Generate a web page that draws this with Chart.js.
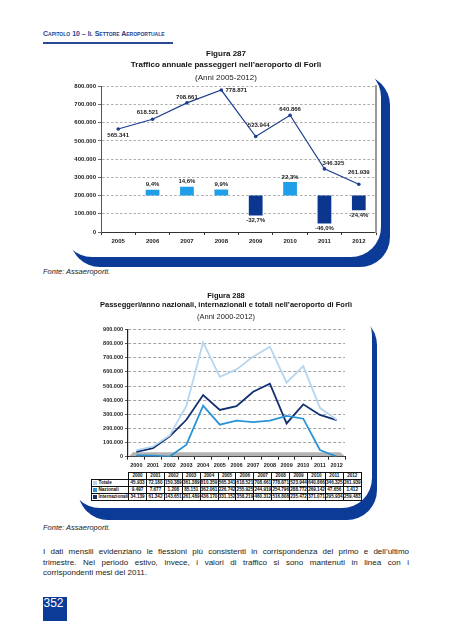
<!DOCTYPE html>
<html><head><meta charset="utf-8">
<script src="https://cdn.jsdelivr.net/npm/chart.js@4.4.1/dist/chart.umd.min.js"></script>
<style>
html,body{margin:0;padding:0;background:#fff;}
body{width:452px;height:640px;position:relative;overflow:hidden;font-family:"Liberation Sans",Arial,sans-serif;color:#1a1a1a;}
.abs{position:absolute;}
#hdr{left:43px;top:30px;font-size:7px;font-weight:bold;color:#1f3f8f;font-variant:small-caps;white-space:nowrap;}
#hdrline{left:43px;top:41.5px;width:130px;height:2px;background:#2a4a98;}
.fb{background:#0b3b96;border-radius:30px;z-index:0;}
.fw{background:#fff;border-radius:30px;z-index:1;}
canvas{position:absolute;z-index:2;}
.fonte{left:43px;font-size:7.5px;font-style:italic;color:#1a1a1a;white-space:nowrap;}
.bl{left:43px;width:366px;font-size:8px;white-space:nowrap;text-align:justify;text-align-last:justify;color:#1a1a1a;height:10.4px;line-height:10.4px;}
#pg{left:43px;top:597px;width:24px;height:24px;background:#0b3b96;color:#fff;font-size:12px;line-height:13px;padding-left:0.5px;box-sizing:border-box;}
#tbl{position:absolute;left:91px;top:472px;border-collapse:collapse;table-layout:fixed;z-index:3;font-size:4.6px;font-weight:bold;color:#111;}
#tbl td{border:0.8px solid #111;padding:0;height:6px;line-height:5.5px;text-align:center;white-space:nowrap;overflow:hidden;}
#tbl td.lab{text-align:left;padding-left:1px;}
#tbl td.blank{border:none;}
.sw{display:inline-block;width:4px;height:4px;margin-right:1.5px;vertical-align:-0.5px;}
</style></head>
<body>
<div id="hdr" class="abs">Capitolo 10 – Il Settore Aeroportuale</div>
<div id="hdrline" class="abs"></div>

<div class="abs fb" style="left:70px;top:75px;width:320px;height:192px;"></div>
<div class="abs fw" style="left:62px;top:67px;width:319px;height:190px;"></div>
<canvas id="c1" width="452" height="210" style="left:0;top:45px;"></canvas>
<div class="abs fonte" style="top:267px;">Fonte: Assaeroporti.</div>

<div class="abs fb" style="left:78px;top:315px;width:299px;height:205px;"></div>
<div class="abs fw" style="left:70px;top:305px;width:302px;height:203px;"></div>
<canvas id="c2" width="452" height="182" style="left:0;top:288px;"></canvas>
<table id="tbl"></table>
<div class="abs fonte" style="top:523px;">Fonte: Assaeroporti.</div>

<div class="abs bl" style="top:547px;">I dati mensili evidenziano le flessioni più consistenti in corrispondenza del primo e dell’ultimo</div>
<div class="abs bl" style="top:557.5px;">trimestre. Nel periodo estivo, invece, i valori di traffico si sono mantenuti in linea con i</div>
<div class="abs bl" style="top:568px;text-align-last:left;">corrispondenti mesi del 2011.</div>
<div id="pg" class="abs">352</div>

<script>
// ---------- data: Figura 287 ----------
const years1 = ['2005','2006','2007','2008','2009','2010','2011','2012'];
const passengers1 = [565341, 618521, 708661, 778871, 523944, 640866, 346325, 261939];
const change1 = [null, 9.4, 14.6, 9.9, -32.7, 22.3, -46.0, -24.4];
const yTicks1 = [0, 100000, 200000, 300000, 400000, 500000, 600000, 700000, 800000];

// ---------- data: Figura 288 ----------
const years2 = ['2000','2001','2002','2003','2004','2005','2006','2007','2008','2009','2010','2011','2012'];
const totale = [45933, 72180, 150389, 361389, 810359, 565341, 618521, 708661, 778871, 523944, 640866, 346325, 261939];
const nazionali = [9497, 7677, 1208, 85151, 362061, 226742, 255925, 244919, 254796, 288772, 269142, 47656, 1412];
const internazionali = [34139, 61342, 143651, 261489, 436170, 331152, 358219, 460312, 516808, 235472, 371071, 295934, 259483];
const yTicks2 = [0, 100000, 200000, 300000, 400000, 500000, 600000, 700000, 800000, 900000];
const seriesNames2 = ['Totale', 'Nazionali', 'Internazionali'];

const FONT = '"Liberation Sans", Arial, sans-serif';
const fmt = v => String(Math.round(v)).replace(/\B(?=(\d{3})+(?!\d))/g, '.');
const fmtPct = v => v.toFixed(1).replace('.', ',') + '%';

const C_LINE1 = '#1d3d8e', C_POS = '#1e9fe8', C_NEG = '#0a3690';
const C_TOT = '#b6d6f0', C_NAZ = '#2a93d6', C_INT = '#10306f';

// label offsets for the line values (style, not data)
const ptOffsets = [[0,6],[-5,-6.5],[0,-5.5],[15,0],[3,-11.5],[0,-5.5],[9,-5.5],[0,-11.5]];

const labels1 = {
  id: 'labels1',
  afterDatasetsDraw(chart) {
    const ctx = chart.ctx;
    ctx.save();
    ctx.font = 'bold 6px ' + FONT;
    ctx.fillStyle = '#222';
    ctx.textAlign = 'center';
    ctx.textBaseline = 'middle';
    chart.getDatasetMeta(1).data.forEach((el, i) => {
      const v = change1[i];
      if (v === null) return;
      ctx.fillText(fmtPct(v), el.x, v >= 0 ? el.y - 5 : el.y + 5);
    });
    chart.getDatasetMeta(0).data.forEach((el, i) => {
      const o = ptOffsets[i];
      ctx.fillText(fmt(passengers1[i]), el.x + o[0], el.y + o[1]);
    });
    ctx.restore();
  }
};

new Chart(document.getElementById('c1'), {
  data: {
    labels: years1,
    datasets: [
      { type: 'line', label: 'Passeggeri', data: passengers1, yAxisID: 'y', order: 0,
        borderColor: C_LINE1, backgroundColor: C_LINE1, borderWidth: 1.2,
        pointRadius: 1.8, pointBackgroundColor: C_LINE1, pointBorderWidth: 0, tension: 0 },
      { type: 'bar', label: 'Variazione %', data: change1, yAxisID: 'y2', order: 1,
        backgroundColor: change1.map(v => (v !== null && v < 0) ? C_NEG : C_POS),
        barPercentage: 0.8, categoryPercentage: 0.5 }
    ]
  },
  options: {
    responsive: false, animation: false,
    layout: { padding: { left: 30, right: 30, top: 0, bottom: 0 } },
    plugins: {
      legend: { display: false }, tooltip: { enabled: false },
      title: { display: true, text: ['Figura 287', 'Traffico annuale passeggeri nell\u2019aeroporto di Forlì'],
        color: '#111', font: { family: FONT, size: 8, weight: 'bold', lineHeight: 1.3 }, padding: { top: 4, bottom: 0 } },
      subtitle: { display: true, text: '(Anni 2005-2012)', color: '#222',
        font: { family: FONT, size: 8, weight: 'normal', lineHeight: 1.3 }, padding: { top: 3, bottom: 3 } }
    },
    scales: {
      x: {
        offset: true,
        grid: { offset: true, drawOnChartArea: false, drawTicks: true, tickLength: 3, tickColor: '#333' },
        border: { color: '#333', width: 1 },
        ticks: { color: '#222', font: { family: FONT, size: 6, weight: 'bold' }, padding: 3, maxRotation: 0 },
        afterFit(s) { s.height = 23; }
      },
      y: {
        position: 'left', min: 0, max: 800000,
        afterBuildTicks(s) { s.ticks = yTicks1.map(v => ({ value: v })); },
        ticks: { callback: v => fmt(v), color: '#222', font: { family: FONT, size: 6, weight: 'bold' }, padding: 2 },
        grid: { color: '#9a9a9a', lineWidth: 0.8, tickLength: 3, tickColor: '#444', tickBorderDash: [], tickWidth: 0.8 },
        border: { color: '#555', width: 1, dash: [2.5, 2] },
        afterFit(s) { s.width = 71; }
      },
      y2: {
        position: 'right', min: -60, max: 180,
        ticks: { display: false },
        grid: { display: false },
        border: { display: true, color: '#9a9a9a', width: 2 },
        afterFit(s) { s.width = 46; }
      }
    }
  },
  plugins: [labels1]
});

// ---------- chart 2 ----------
const floor2 = {
  id: 'floor2',
  beforeDatasetsDraw(chart) {
    const a = chart.chartArea, ctx = chart.ctx;
    ctx.save();
    ctx.fillStyle = '#b4b4b4';
    ctx.beginPath();
    ctx.moveTo(a.left + 1, a.bottom - 0.5);
    ctx.lineTo(a.right, a.bottom - 0.5);
    ctx.lineTo(a.right - 5, a.bottom - 4.5);
    ctx.lineTo(a.left + 5, a.bottom - 4.5);
    ctx.closePath();
    ctx.fill();
    ctx.restore();
  }
};

new Chart(document.getElementById('c2'), {
  type: 'line',
  data: {
    labels: years2,
    datasets: [
      { label: seriesNames2[0], data: totale, borderColor: C_TOT, backgroundColor: C_TOT, borderWidth: 1.8, pointRadius: 0, tension: 0 },
      { label: seriesNames2[1], data: nazionali, borderColor: C_NAZ, backgroundColor: C_NAZ, borderWidth: 1.8, pointRadius: 0, tension: 0 },
      { label: seriesNames2[2], data: internazionali, borderColor: C_INT, backgroundColor: C_INT, borderWidth: 1.8, pointRadius: 0, tension: 0 }
    ]
  },
  options: {
    responsive: false, animation: false,
    layout: { padding: { left: 100, right: 100, top: 0, bottom: 0 } },
    plugins: {
      legend: { display: false }, tooltip: { enabled: false },
      title: { display: true, text: ['Figura 288', 'Passeggeri/anno nazionali, internazionali e totali nell\u2019aeroporto di Forlì'],
        color: '#111', font: { family: FONT, size: 7.5, weight: 'bold', lineHeight: 1.25 }, padding: { top: 3, bottom: 0 } },
      subtitle: { display: true, text: '(Anni 2000-2012)', color: '#222',
        font: { family: FONT, size: 7.5, weight: 'normal', lineHeight: 1.25 }, padding: { top: 2, bottom: 8.5 } }
    },
    scales: {
      x: {
        offset: true,
        grid: { offset: true, drawOnChartArea: false, drawTicks: true, tickLength: 3, tickColor: '#222' },
        border: { color: '#222', width: 1 },
        ticks: { color: '#222', font: { family: FONT, size: 5.5, weight: 'bold' }, padding: 2, maxRotation: 0, autoSkip: false },
        afterFit(s) { s.height = 13.3; }
      },
      y: {
        position: 'left', min: 0, max: 900000,
        afterBuildTicks(s) { s.ticks = yTicks2.map(v => ({ value: v })); },
        ticks: { callback: v => fmt(v), color: '#222', font: { family: FONT, size: 5.5, weight: 'bold' }, padding: 2 },
        grid: { color: '#8a8a8a', lineWidth: 0.8, tickLength: 3, tickColor: '#333', tickBorderDash: [], tickWidth: 0.8 },
        border: { color: '#222', width: 1.2, dash: [3, 2] },
        afterFit(s) { s.width = 28; }
      },
      yr: {
        position: 'right', min: 0, max: 1,
        ticks: { display: false }, grid: { display: false }, border: { display: false },
        afterFit(s) { s.width = 7; }
      }
    }
  },
  plugins: [floor2]
});

// ---------- data table ----------
(function () {
  const t = document.getElementById('tbl');
  let html = '<colgroup><col style="width:37px">' + years2.map(() => '<col style="width:17.9px">').join('') + '</colgroup>';
  html += '<tr><td class="blank"></td>' + years2.map(y => '<td>' + y + '</td>').join('') + '</tr>';
  const rows = [[seriesNames2[0], C_TOT, totale], [seriesNames2[1], C_NAZ, nazionali], [seriesNames2[2], C_INT, internazionali]];
  rows.forEach(r => {
    html += '<tr><td class="lab"><span class="sw" style="background:' + r[1] + '"></span>' + r[0] + '</td>' +
      r[2].map(v => '<td>' + fmt(v) + '</td>').join('') + '</tr>';
  });
  t.innerHTML = html;
})();
</script>
</body></html>
